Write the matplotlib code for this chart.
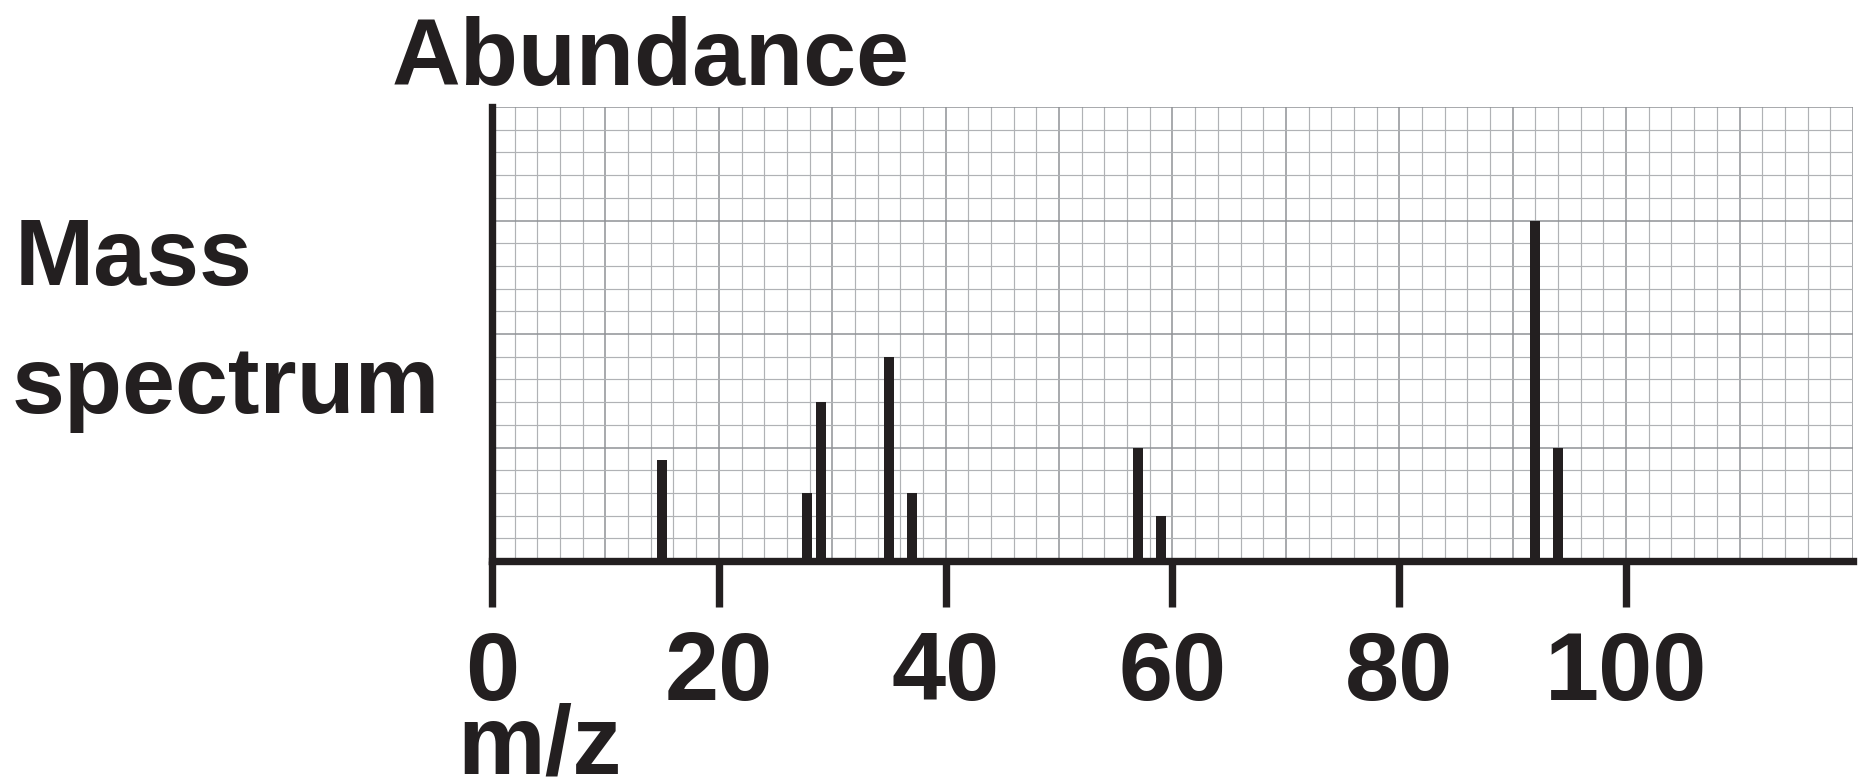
import matplotlib
matplotlib.use("Agg")
import matplotlib.pyplot as plt
import numpy as np

# peaks
mz = [15, 27.8, 29, 35, 37, 57, 59, 92, 94]
abundance = [4.45, 3, 7, 9, 3, 5, 2, 15, 5]
xticks = [0, 20, 40, 60, 80, 100]

ink = '#231f20'
grid_minor = '#b0b2b5'
grid_major = '#8f9296'

plt.rcParams['font.family'] = ['Liberation Sans', 'DejaVu Sans']
plt.rcParams['font.weight'] = 'bold'

fig = plt.figure(figsize=(18.63, 7.83), dpi=100)
ax = fig.add_axes([0.2641, 0.2835, 0.7305, 0.5798])
ax.set_xlim(0, 120)
ax.set_ylim(0, 20)

# graph paper
for v in np.arange(0, 121, 2):
    major = v % 10 == 0
    ax.axvline(v, color=grid_major if major else grid_minor,
               lw=1.1 if major else 0.85, zorder=1)
for v in np.arange(0, 21, 1):
    major = v % 5 == 0
    ax.axhline(v, color=grid_major if major else grid_minor,
               lw=1.1 if major else 0.85, zorder=1)

ax.bar(mz, abundance, width=0.88, color=ink, zorder=3)

for s in ['top', 'right']:
    ax.spines[s].set_visible(False)
for s in ['left', 'bottom']:
    ax.spines[s].set_color(ink)
    ax.spines[s].set_linewidth(5.3)
    ax.spines[s].set_zorder(4)

ax.set_xticks(xticks)
ax.set_xticklabels([str(t) for t in xticks])
ax.set_yticks([])
ax.tick_params(axis='x', direction='out', length=33, width=5.3, color=ink,
               pad=17, labelsize=70, labelcolor=ink)
for lab in ax.get_xticklabels():
    lab.set_fontweight('bold')

fig.text(0.2103, 0.8914, 'Abundance', fontsize=68.5, fontweight='bold',
         color=ink, va='baseline', ha='left')
fig.text(0.008, 0.6355, 'Mass', fontsize=68.5, fontweight='bold',
         color=ink, va='baseline', ha='left')
fig.text(0.006, 0.4725, 'spectrum', fontsize=68.5, fontweight='bold',
         color=ink, va='baseline', ha='left')
fig.text(0.2453, 0.0115, 'm/z', fontsize=71, fontweight='bold',
         color=ink, va='baseline', ha='left')

fig.savefig('out.png', dpi=100, facecolor='white')
